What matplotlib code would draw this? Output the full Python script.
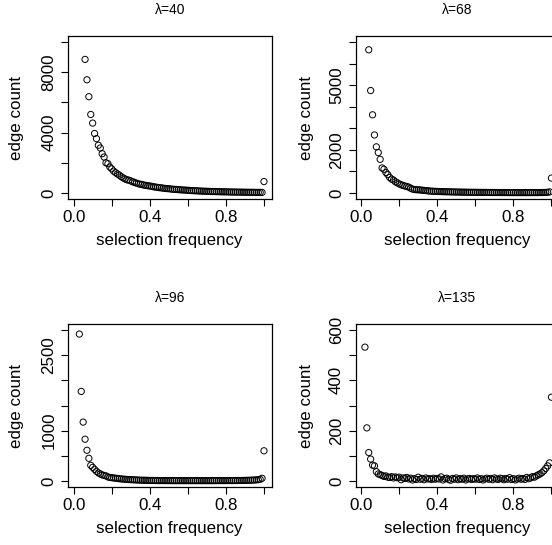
"""Edge count vs selection frequency, one panel per lambda (R base-graphics look)."""

import matplotlib

matplotlib.use("Agg")
import matplotlib.pyplot as plt
import numpy as np

W, H = 552, 545

lambda_labels = ["λ=40", "λ=68", "λ=96", "λ=135"]
first_freq = [0.06, 0.04, 0.03, 0.02]

lam40_counts = [8850, 7500, 6380, 5200, 4630, 3940, 3600, 3160, 2980, 2600, 2380, 2000, 1940, 1720, 1600,
                1450, 1350, 1260, 1180, 1080, 1000, 930, 870, 850, 800,
                740, 700, 650, 610, 580, 560, 520, 500, 480, 460,
                440, 410, 390, 370, 350, 340, 320, 300, 290, 280,
                265, 250, 240, 230, 220, 210, 200, 195, 185, 175,
                170, 160, 150, 145, 140, 130, 125, 120, 115, 110,
                105, 100, 95, 92, 88, 85, 80, 78, 75, 72,
                70, 66, 64, 62, 60, 58, 56, 54, 52, 50,
                48, 47, 45, 44, 42, 41, 40, 38, 36, 757]
lam68_counts = [6640, 4750, 3625, 2690, 2140, 1875, 1560,
                1160, 1100, 950, 850, 720, 640, 600, 520, 470, 420,
                380, 350, 320, 300, 270, 220, 180, 160, 150, 145,
                140, 130, 120, 110, 100, 90, 85, 80, 75, 70,
                66, 63, 60, 58, 55, 53, 50, 48, 46, 44,
                42, 40, 39, 37, 36, 34, 33, 32, 31, 30,
                29, 28, 27, 26, 25, 25, 24, 23, 22, 22,
                21, 21, 20, 20, 19, 19, 18, 18, 18, 17,
                17, 17, 16, 16, 16, 16, 16, 16, 17, 17,
                18, 18, 19, 20, 21, 23, 25, 30, 50, 690]
lam96_counts = [2920, 1780, 1170, 830, 610, 450, 310, 270,
                230, 190, 160, 140, 120, 110, 100, 80, 70, 65,
                60, 55, 50, 45, 40, 37, 34, 31, 28, 26,
                24, 22, 20, 18, 16, 15, 14, 13, 12, 11,
                10, 10, 9, 9, 8, 8, 8, 7, 7, 7,
                7, 6, 6, 6, 6, 6, 6, 6, 6, 6,
                6, 6, 6, 6, 6, 6, 6, 6, 6, 6,
                6, 6, 6, 6, 7, 7, 7, 7, 7, 7,
                8, 8, 8, 8, 9, 9, 10, 10, 11, 12,
                13, 14, 15, 17, 19, 22, 26, 32, 53, 600]
lam135_counts = [532, 211, 113, 87, 63, 60, 37, 28, 25,
                 22, 18, 20, 15, 14, 17, 12, 16, 13, 15,
                 5, 12, 10, 14, 8, 11, 4, 9, 6, 15,
                 7, 10, 5, 12, 8, 9, 6, 11, 7, 10,
                 8, 16, 4, 9, 11, 6, 3, 10, 7, 12,
                 5, 9, 7, 11, 4, 8, 10, 6, 9, 7,
                 12, 6, 9, 4, 8, 11, 7, 10, 5, 12,
                 8, 6, 11, 9, 5, 10, 7, 13, 6, 9,
                 4, 8, 11, 7, 10, 6, 14, 9, 12, 17,
                 15, 20, 24, 28, 33, 40, 50, 60, 72, 333]
all_counts = [lam40_counts, lam68_counts, lam96_counts, lam135_counts]

y_max = [10000, 7000, 3000, 600]
y_step = [2000, 1000, 500, 100]
y_labelled = [[0, 4000, 8000], [0, 2000, 5000], [0, 1000, 2500], [0, 200, 400, 600]]
x_ticks = [0.0, 0.2, 0.4, 0.6, 0.8, 1.0]
x_labelled = [0.0, 0.4, 0.8]

# plot boxes in pixels (left, right, top, bottom); right column runs off the canvas
boxes = [(68, 271.5, 36, 199), (355.5, 559, 36, 199), (68, 271.5, 324, 487), (355.5, 559, 324, 487)]
title_y = [10.5, 10.5, 298.5, 298.5]
xlabel_y = [241, 241, 529, 529]
ylabel_x = [17, 306, 17, 306]

FONT = "Liberation Sans"


def fx(px):
    return px / W


def fy(py):
    return 1 - py / H


def main() -> None:
    plt.rcParams["font.family"] = [FONT, "DejaVu Sans"]
    fig = plt.figure(figsize=(W / 100, H / 100), dpi=100)

    for i, counts in enumerate(all_counts):
        left, right, top, bottom = boxes[i]
        ax = fig.add_axes([fx(left), fy(bottom), fx(right) - fx(left), fy(top) - fy(bottom)])
        freq = first_freq[i] + np.arange(len(counts)) / 100
        ax.scatter(freq, counts, s=20, facecolors="none", edgecolors="black", linewidths=0.7,
                   clip_on=True, zorder=3)

        # R pads the ranges by 4% on each side
        ax.set_xlim(0.01 - 0.04 * 0.99, 1.0 + 0.04 * 0.99)
        ax.set_ylim(-0.04 * y_max[i], 1.04 * y_max[i])

        ax.set_xticks(x_ticks)
        ax.set_xticklabels([f"{t:.1f}" if t in x_labelled else "" for t in x_ticks])
        yt = list(range(0, y_max[i] + 1, y_step[i]))
        ax.set_yticks(yt)
        ax.set_yticklabels([str(t) if t in y_labelled[i] else "" for t in yt],
                           rotation=90, va="center")

        ax.tick_params(direction="out", length=5, width=0.8, colors="black",
                       labelsize=12.2, pad=3.2)
        for sp in ax.spines.values():
            sp.set_linewidth(0.9)
            sp.set_color("black")

        cx = (left + right) / 2
        fig.text(fx(cx), fy(title_y[i]), lambda_labels[i], ha="center", va="center", fontsize=10)
        fig.text(fx(cx), fy(xlabel_y[i]), "selection frequency", ha="center", va="center",
                 fontsize=12.2)
        fig.text(fx(ylabel_x[i]), fy((top + bottom) / 2), "edge count", ha="center", va="center",
                 rotation=90, fontsize=12.2)

    fig.savefig("out.png", dpi=100)


if __name__ == "__main__":
    main()
